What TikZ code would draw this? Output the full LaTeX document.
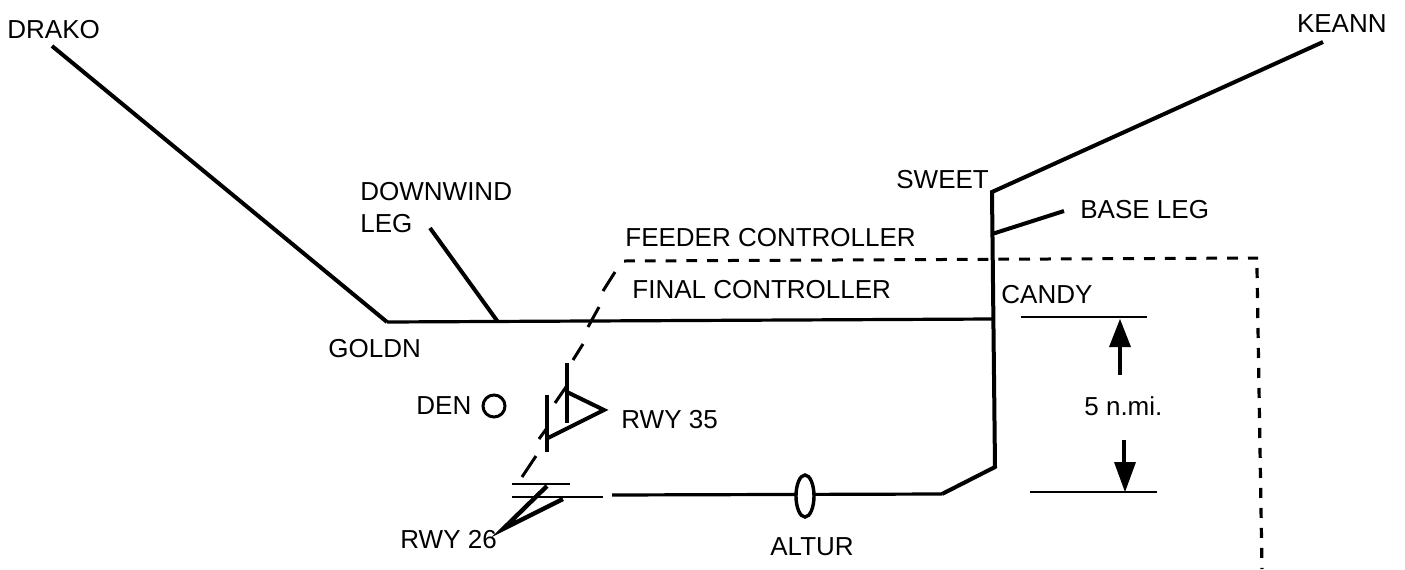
\documentclass[tikz,border=0pt]{standalone}
\usepackage{fontspec}
\usetikzlibrary{shapes.geometric}
\setmainfont{Liberation Sans}
\tikzset{
  px/.style={x=0.5pt,y=-0.5pt},
  route/.style={line width=2pt,line join=miter,line cap=butt},
  flatroute/.style={line width=1.6pt},
  thinroute/.style={line width=1.35pt},
  boundary/.style={line width=1.5pt,dash pattern=on 5.4pt off 5pt},
  boundaryv/.style={line width=1.6pt,dash pattern=on 5pt off 5pt},
  dashseg/.style={line width=1.5pt},
  lab/.style={inner sep=0pt,anchor=west,font=\fontsize{13}{15}\selectfont},
  arrowhd/.style={fill=black,draw=none}
}
\begin{document}
\begin{tikzpicture}[px]
\useasboundingbox (0,0) rectangle (1405,569);
% labels
\node[lab] (drako) at (7,30) {DRAKO};
\node[lab,anchor=east] (keann) at (1387,24) {KEANN};
\node[lab] (downwind) at (360,192) {DOWNWIND};
\node[lab] (leg) at (360,224) {LEG};
\node[lab] (sweet) at (896,180) {SWEET};
\node[lab] (baseleg) at (1080,210) {BASE LEG};
\node[lab] (feeder) at (625,238) {FEEDER CONTROLLER};
\node[lab] (final) at (632,290) {FINAL CONTROLLER};
\node[lab] (candy) at (1001,295) {CANDY};
\node[lab] (goldn) at (328,349) {GOLDN};
\node[lab] (den) at (416,406) {DEN};
\node[lab] (rwy35) at (621,420) {RWY 35};
\node[lab] (rwy26) at (400,540) {RWY 26};
\node[lab] (altur) at (770,547) {ALTUR};
\node[lab] (dist) at (1084,406) {5 n.mi.};
% waypoints
\coordinate (pD) at (52,46);
\coordinate (pG) at (387,322);
\coordinate (pW) at (498,322);
\coordinate (pW2) at (430,228);
\coordinate (pC) at (992,319);
\coordinate (pS) at (992,192);
\coordinate (pK) at (1323,42);
\coordinate (pB) at (992,234);
\coordinate (pB2) at (1064,211);
\coordinate (pT) at (995,467);
\coordinate (pA) at (942,494);
\coordinate (pR1) at (612,495);
\coordinate (pR0) at (603,497);
\coordinate (pR00) at (512,497);
% routes
\draw[route] (pD) -- (pG);
\draw[flatroute] (pG) -- (pC);
\draw[route] (pW2) -- (pW);
\draw[route] (pK) -- (pS) -- (pT) -- (pA);
\draw[flatroute] (pA) -- (pR1);
\draw[route] (pB) -- (pB2);
\draw[thinroute] (pR00) -- (pR0);
% altur fix
\node[draw,line width=1.7pt,fill=white,ellipse,minimum width=9pt,minimum height=21pt,inner sep=0pt] (alturfix) at (805,496) {};
% den
\node[draw,circle,line width=1.5pt,minimum size=11pt,inner sep=0pt] (dencirc) at (494,406) {};
% runway 35
\coordinate (a1) at (567,392);
\coordinate (a2) at (604,410);
\coordinate (a3) at (548,438);
\draw[route] (a1) -- (a2) -- (a3);
\coordinate (b1) at (567,363);
\coordinate (b2) at (567,423);
\coordinate (c1) at (547,395);
\coordinate (c2) at (547,452);
\draw[route,line width=1.8pt] (b1) -- (b2);
\draw[route,line width=1.8pt] (c1) -- (c2);
% runway 26
\coordinate (d1) at (512,484);
\coordinate (d2) at (570,484);
\coordinate (e1) at (547,486);
\coordinate (e2) at (503,529);
\coordinate (e3) at (563,499);
\draw[thinroute] (d1) -- (d2);
\draw[route,line width=2.2pt] (e1) -- (e2) -- (e3);
% controller boundary
\coordinate (f0) at (624,261);
\coordinate (f1) at (1258,258);
\coordinate (f2) at (1262,569);
\draw[boundary] (f0) -- (f1);
\coordinate (f3) at (1257,268);
\draw[boundaryv] (f3) -- (f2);
% diagonal boundary dashes
\coordinate (g1) at (583,344); \coordinate (g2) at (573,360);
\coordinate (g3) at (566,387); \coordinate (g4) at (555,403);
\coordinate (g5) at (547,428); \coordinate (g6) at (539,439);
\coordinate (g7) at (536,456); \coordinate (g8) at (522,477);
\coordinate (g9) at (615,272); \coordinate (g10) at (603,291);
\coordinate (g11) at (599,307); \coordinate (g12) at (588,327);
\draw[dashseg] (g1)--(g2);
\draw[dashseg] (g3)--(g4);
\draw[dashseg] (g5)--(g6);
\draw[dashseg] (g7)--(g8);
\draw[dashseg] (g9)--(g10);
\draw[dashseg] (g11)--(g12);
% dimension
\coordinate (h1) at (1021,317); \coordinate (h2) at (1147,317);
\coordinate (i1) at (1030,492); \coordinate (i2) at (1157,492);
\draw[thinroute] (h1) -- (h2);
\draw[thinroute] (i1) -- (i2);
\coordinate (j1) at (1120,375); \coordinate (j2) at (1120,345);
\coordinate (k1) at (1124,440); \coordinate (k2) at (1124,464);
\draw[route] (j1) -- (j2);
\draw[route] (k1) -- (k2);
\fill[arrowhd] (1120,319) -- (1131,347) -- (1109,347) -- cycle;
\fill[arrowhd] (1125,492) -- (1136,462) -- (1114,462) -- cycle;
\end{tikzpicture}
\end{document}
